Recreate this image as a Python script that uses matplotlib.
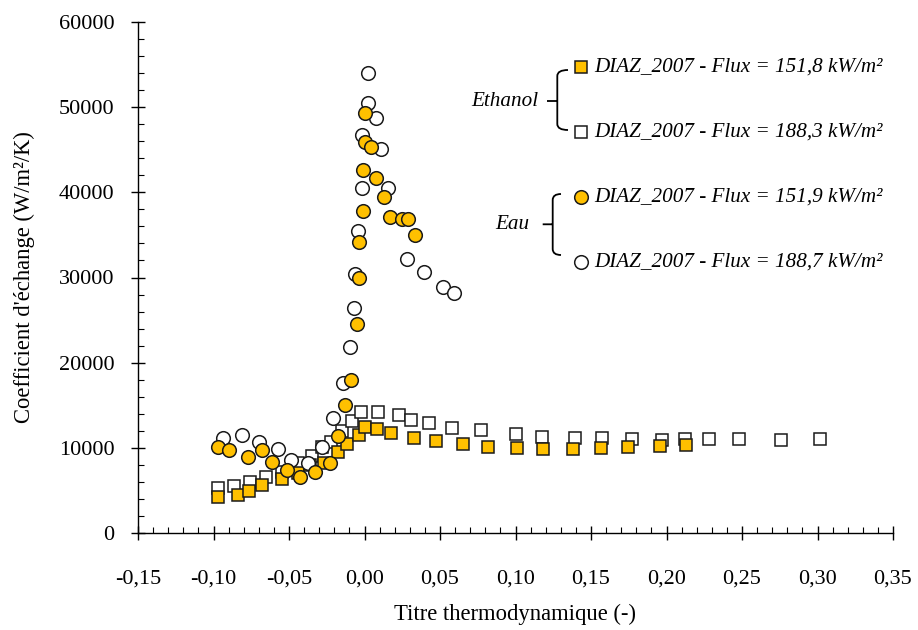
import matplotlib
matplotlib.use("Agg")
import matplotlib.pyplot as plt
from matplotlib.ticker import MultipleLocator, FuncFormatter
from matplotlib.lines import Line2D
from matplotlib.path import Path
from matplotlib.patches import PathPatch

# Ethanol, flux 151,8 kW/m2 (filled squares)
eth_152_x = [-0.097, -0.084, -0.0765, -0.068, -0.0544, -0.044, -0.036, -0.027, -0.0174, -0.0118,
             -0.0036, 0.0003, 0.0085, 0.0173, 0.033, 0.0474, 0.0654, 0.0818, 0.1008, 0.118,
             0.1383, 0.1564, 0.1747, 0.1957, 0.2129]
eth_152_y = [4190, 4460, 4930, 5640, 6300, 7080, 7980, 8250, 9470, 10410,
             11500, 12480, 12210, 11700, 11190, 10800, 10410, 10130, 9940, 9830,
             9830, 9940, 10130, 10210, 10330]

# Ethanol, flux 188,3 kW/m2 (open squares)
eth_188_x = [-0.097, -0.0862, -0.0758, -0.0652, -0.0548, -0.0438, -0.035, -0.0283, -0.0224, -0.0151,
             -0.0085, -0.0023, 0.0091, 0.0228, 0.0306, 0.0429, 0.0581, 0.0774, 0.1003, 0.1177,
             0.1396, 0.157, 0.1772, 0.1972, 0.2125, 0.228, 0.248, 0.2758, 0.3017]
eth_188_y = [5250, 5500, 6020, 6610, 7200, 8180, 9040, 10130, 10720, 11970,
             13180, 14240, 14170, 13850, 13270, 12880, 12370, 12060, 11590, 11310,
             11120, 11120, 11040, 10920, 11040, 11000, 11040, 10920, 11040]

# Eau, flux 151,9 kW/m2 (filled circles)
eau_152_x = [-0.097, -0.090, -0.077, -0.068, -0.061, -0.051, -0.043, -0.033, -0.023, -0.0175,
             -0.013, -0.009, -0.005, -0.0035, -0.0035, -0.001, -0.0008, 0.0003, 0.0003, 0.004,
             0.0076, 0.0127, 0.017, 0.025, 0.029, 0.0334]
eau_152_y = [10100, 9740, 8920, 9740, 8340, 7400, 6570, 7160, 8180, 11390,
             15030, 17960, 24570, 29970, 34160, 37840, 42620, 49270, 45940, 45280,
             41640, 39480, 37130, 36830, 36830, 34990]

# Eau, flux 188,7 kW/m2 (open circles)
eau_189_x = [-0.0935, -0.081, -0.070, -0.0575, -0.049, -0.0376, -0.0283, -0.0207, -0.014, -0.0096,
             -0.007, -0.0063, -0.0043, -0.0015, -0.0015, 0.0025, 0.0025, 0.0074, 0.011, 0.0158,
             0.028, 0.0394, 0.0522, 0.0593]
eau_189_y = [11190, 11470, 10680, 9860, 8570, 8180, 10060, 13540, 17570, 21800,
             26380, 30370, 35450, 40470, 46730, 50450, 54040, 48690, 45050, 40470,
             32170, 30610, 28920, 28140]

labels = ["DIAZ_2007 - Flux = 151,8 kW/m²", "DIAZ_2007 - Flux = 188,3 kW/m²",
          "DIAZ_2007 - Flux = 151,9 kW/m²", "DIAZ_2007 - Flux = 188,7 kW/m²"]
groups = ["Ethanol", "Eau"]

gold = "#FFC000"
edge = "#1a1a1a"
font = "Liberation Serif"
plt.rcParams["font.family"] = [font, "DejaVu Serif"]

W, H = 918, 630
fig = plt.figure(figsize=(W / 100, H / 100), dpi=100)
ax = fig.add_axes([138 / W, 1 - 533 / H, (893 - 138) / W, (533 - 22) / H])


def fp(x, y):
    # pixel -> figure fraction
    return x / W, 1 - y / H


sq = dict(linestyle="none", marker="s", ms=8.6, mew=1.1, mec=edge, clip_on=False)
ci = dict(linestyle="none", marker="o", ms=9.8, mew=1.1, mec=edge, clip_on=False)

ax.plot(eth_188_x, eth_188_y, mfc="white", **sq)
ax.plot(eth_152_x, eth_152_y, mfc=gold, **sq)
ax.plot(eau_189_x, eau_189_y, mfc="white", **ci)
ax.plot(eau_152_x, eau_152_y, mfc=gold, **ci)

ax.set_xlim(-0.15, 0.35)
ax.set_ylim(0, 60000)
ax.xaxis.set_major_locator(MultipleLocator(0.05))
ax.xaxis.set_minor_locator(MultipleLocator(0.01))
ax.yaxis.set_major_locator(MultipleLocator(10000))
ax.yaxis.set_minor_locator(MultipleLocator(2000))
ax.xaxis.set_major_formatter(FuncFormatter(lambda v, p: f"{v:.2f}".replace(".", ",").replace("-0,00", "0,00")))
ax.yaxis.set_major_formatter(FuncFormatter(lambda v, p: f"{v:.0f}"))

for s in ["top", "right"]:
    ax.spines[s].set_visible(False)
for s in ["left", "bottom"]:
    ax.spines[s].set_linewidth(1.0)
    ax.spines[s].set_color("black")

ax.tick_params(axis="both", which="major", direction="inout", length=10, width=1.0,
               labelsize=16)
ax.tick_params(axis="both", which="minor", direction="in", length=4.3, width=0.8)
ax.tick_params(axis="x", which="major", pad=21.5)
ax.tick_params(axis="y", which="major", pad=12)

ax.set_xlabel("Titre thermodynamique (-)", fontsize=16.3, labelpad=11)
ax.set_ylabel("Coefficient d'échange (W/m²/K)", fontsize=16.3, labelpad=17)

# legend drawn by hand, with braces
leg_y = [66.7, 131.7, 196.7, 261.7]
leg_style = [(sq, gold), (sq, "white"), (ci, gold), (ci, "white")]
for yy, lab, (st, fc) in zip(leg_y, labels, leg_style):
    mx, my = fp(580.7, yy)
    kw = {k: v for k, v in st.items() if k != "clip_on"}
    fig.add_artist(Line2D([mx], [my], transform=fig.transFigure, mfc=fc, **kw))
    tx, ty = fp(594, yy)
    fig.text(tx, ty, lab, fontsize=15.2, style="italic", va="center", ha="left")


def brace(x, y0, y1, ym, x_end, x_tip):
    r = 6
    verts = [fp(x_end, y0), fp(x, y0), fp(x, y0 + r), fp(x, y1 - r), fp(x, y1), fp(x_end, y1),
             fp(x_tip, ym), fp(x, ym)]
    codes = [Path.MOVETO, Path.CURVE3, Path.CURVE3, Path.LINETO, Path.CURVE3, Path.CURVE3,
             Path.MOVETO, Path.LINETO]
    fig.add_artist(PathPatch(Path(verts, codes), transform=fig.transFigure, fc="none",
                             ec="black", lw=1.3))


brace(557.3, 70, 130, 101, 568, 547)
brace(552.7, 194, 255, 224.3, 561, 542.7)

for g, (gx, gy) in zip(groups, [(538, 101.7), (529, 224)]):
    tx, ty = fp(gx, gy)
    fig.text(tx, ty, g, fontsize=15.2, style="italic", va="center", ha="right")

fig.savefig("out.png", dpi=100)
